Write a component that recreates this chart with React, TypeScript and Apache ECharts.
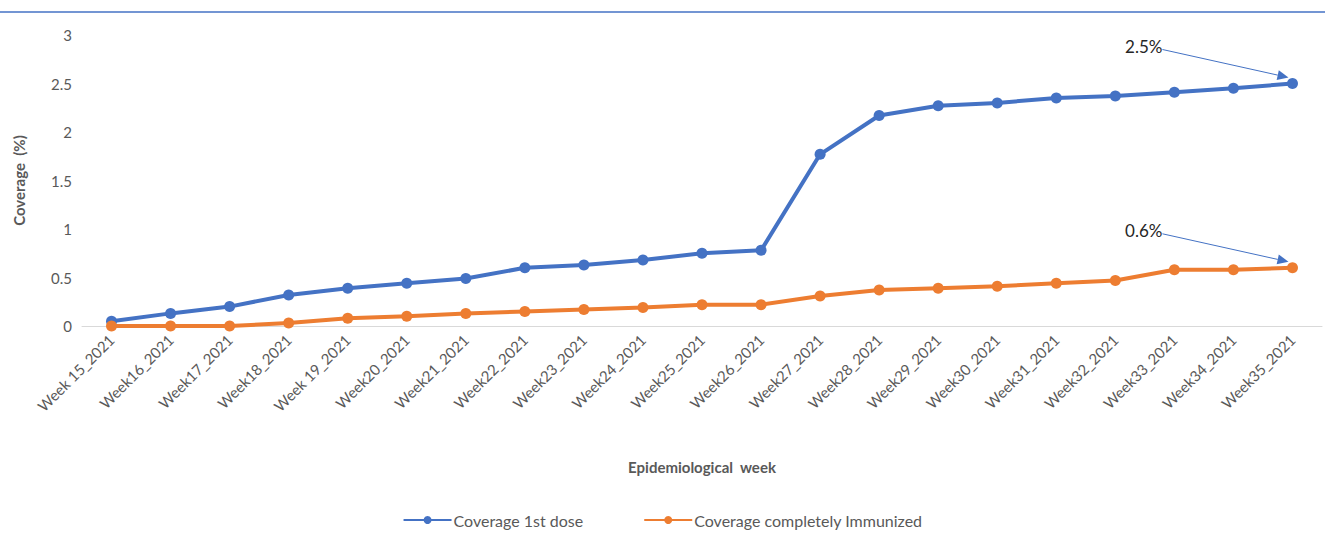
import React, { useEffect, useRef } from "react";
import * as echarts from "echarts";

const categories = [
  "Week 15_2021", "Week16_2021", "Week17_2021", "Week18_2021", "Week 19_2021",
  "Week20_2021", "Week21_2021", "Week22_2021", "Week23_2021", "Week24_2021",
  "Week25_2021", "Week26_2021", "Week27_2021", "Week28_2021", "Week29_2021",
  "Week30_2021", "Week31_2021", "Week32_2021", "Week33_2021", "Week34_2021",
  "Week35_2021",
];
const firstDose = [
  0.05, 0.13, 0.2, 0.32, 0.39, 0.44, 0.49, 0.6, 0.63, 0.68, 0.75, 0.78,
  1.77, 2.17, 2.27, 2.3, 2.35, 2.37, 2.41, 2.45, 2.5,
];
const fullyImmunized = [
  0, 0, 0, 0.03, 0.08, 0.1, 0.13, 0.15, 0.17, 0.19, 0.22, 0.22,
  0.31, 0.37, 0.39, 0.41, 0.44, 0.47, 0.58, 0.58, 0.6,
];
const annotations = ["2.5%", "0.6%"];

const BLUE = "#4472C4";
const ORANGE = "#ED7D31";
const GRAY = "#595959";
const FONT = "Lato, 'Open Sans', sans-serif";

export default function App() {
  const ref = useRef<HTMLDivElement>(null);
  useEffect(() => {
    document.body.style.margin = "0";
    const chart = echarts.init(ref.current!, null, { renderer: "svg" });
    chart.setOption({
      animation: false,
      textStyle: { fontFamily: FONT },
      grid: { left: 82, right: 3, top: 35, bottom: 210, containLabel: false },
      legend: {
        bottom: 3,
        left: "center",
        itemWidth: 48,
        itemHeight: 10,
        itemGap: 60,
        textStyle: { color: GRAY, fontSize: 16, fontFamily: FONT, padding: [0, 0, 0, -3] },
        data: ["Coverage 1st dose", "Coverage completely Immunized"],
      },
      xAxis: {
        type: "category",
        data: categories,
        boundaryGap: true,
        axisLine: { lineStyle: { color: "#D9D9D9", width: 1 } },
        axisTick: { show: false },
        axisLabel: { rotate: 45, color: GRAY, fontSize: 15, margin: 11, interval: 0 },
        name: "Epidemiological  week",
        nameLocation: "middle",
        nameGap: 133,
        nameTextStyle: { color: GRAY, fontSize: 15, fontWeight: "bold" },
      },
      yAxis: {
        type: "value",
        min: 0,
        max: 3,
        interval: 0.5,
        splitLine: { show: false },
        axisLine: { show: false },
        axisTick: { show: false },
        axisLabel: { color: GRAY, fontSize: 15, margin: 10 },
        name: "Coverage  (%)",
        nameLocation: "middle",
        nameGap: 56,
        nameTextStyle: { color: GRAY, fontSize: 15, fontWeight: "bold" },
      },
      series: [
        {
          name: "Coverage 1st dose",
          type: "line",
          data: firstDose,
          color: BLUE,
          symbol: "circle",
          symbolSize: 11,
          lineStyle: { width: 4, color: BLUE },
          itemStyle: { color: BLUE },
        },
        {
          name: "Coverage completely Immunized",
          type: "line",
          data: fullyImmunized,
          color: ORANGE,
          symbol: "circle",
          symbolSize: 11,
          lineStyle: { width: 4, color: ORANGE },
          itemStyle: { color: ORANGE },
        },
      ],
    });

    const last = categories.length - 1;
    const graphics: any[] = [
      {
        type: "line",
        shape: { x1: 0, y1: 12, x2: 1325, y2: 12 },
        style: { stroke: BLUE, lineWidth: 1.5 },
      },
    ];
    const seriesVals = [firstDose, fullyImmunized];
    seriesVals.forEach((vals, i) => {
      const p = chart.convertToPixel({ gridIndex: 0 }, [last, vals[last]]) as number[];
      const ex = p[0] - 4;
      const ey = p[1] - 6;
      const sx = ex - 126;
      const sy = ey - 28;
      const ang = Math.atan2(ey - sy, ex - sx);
      const len = 11;
      const w = 5;
      const bx = ex - len * Math.cos(ang);
      const by = ey - len * Math.sin(ang);
      graphics.push(
        {
          type: "line",
          shape: { x1: sx, y1: sy, x2: bx, y2: by },
          style: { stroke: BLUE, lineWidth: 1 },
        },
        {
          type: "polygon",
          shape: {
            points: [
              [ex, ey],
              [bx + w * Math.sin(ang), by - w * Math.cos(ang)],
              [bx - w * Math.sin(ang), by + w * Math.cos(ang)],
            ],
          },
          style: { fill: BLUE },
        },
        {
          type: "text",
          x: sx,
          y: sy - 3,
          style: {
            text: annotations[i],
            fill: "#262626",
            font: `17px ${FONT}`,
            textAlign: "right",
            textVerticalAlign: "middle",
          },
        }
      );
    });
    chart.setOption({ graphic: graphics });

    return () => chart.dispose();
  }, []);
  return <div ref={ref} style={{ width: 1325, height: 536 }} />;
}
